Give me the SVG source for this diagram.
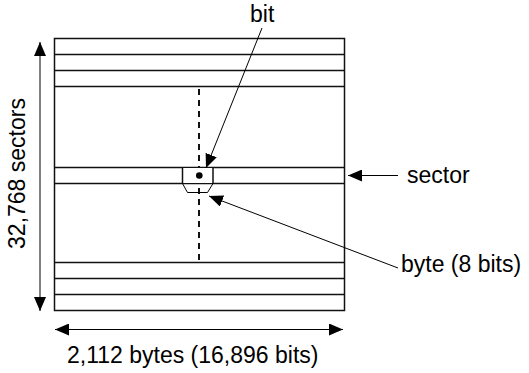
<svg xmlns="http://www.w3.org/2000/svg" width="529" height="373" viewBox="0 0 529 373">
<style>
.box{fill:none;stroke:#111;stroke-width:1.5}
.ln{stroke:#111;stroke-width:1.5}
.conn{stroke:#000;stroke-width:1;fill:none}
.lbl{font-family:"Liberation Sans",Arial,sans-serif;font-size:23px;fill:#000}
</style>
<defs>
<marker id="ah" markerWidth="14" markerHeight="12" refX="14" refY="6" orient="auto" markerUnits="userSpaceOnUse">
<path d="M0,0 L14,6 L0,12 Z" fill="#000"/>
</marker>
<marker id="ahs" markerWidth="14" markerHeight="12" refX="0" refY="6" orient="auto" markerUnits="userSpaceOnUse">
<path d="M14,0 L0,6 L14,12 Z" fill="#000"/>
</marker>
</defs>
<g id="disk">
<rect class="box" x="54.5" y="38.5" width="290" height="272"/>
<line class="ln" x1="54.5" y1="54.5" x2="344.5" y2="54.5"/>
<line class="ln" x1="54.5" y1="70.5" x2="344.5" y2="70.5"/>
<line class="ln" x1="54.5" y1="86.5" x2="344.5" y2="86.5"/>
<line class="ln" x1="54.5" y1="167.5" x2="344.5" y2="167.5"/>
<line class="ln" x1="54.5" y1="183.5" x2="344.5" y2="183.5"/>
<line class="ln" x1="54.5" y1="262.5" x2="344.5" y2="262.5"/>
<line class="ln" x1="54.5" y1="278.5" x2="344.5" y2="278.5"/>
<line class="ln" x1="54.5" y1="294.5" x2="344.5" y2="294.5"/>
<line x1="199" y1="89" x2="199" y2="260" stroke="#111" stroke-width="2" stroke-dasharray="6,5"/>
</g>
<g id="byte">
<rect x="182" y="168" width="31" height="15" fill="#fff" stroke="none"/>
<line class="ln" x1="182.5" y1="167.5" x2="182.5" y2="183.5"/>
<line class="ln" x1="213" y1="167.5" x2="213" y2="183.5"/>
<polyline class="conn" points="182.5,183.5 187.5,192.5 207.5,192.5 213,183.5"/>
<circle cx="199.3" cy="175.5" r="3.3" fill="#000"/>
</g>
<g id="connectors">
<line class="conn" x1="40" y1="42" x2="40" y2="311" marker-start="url(#ahs)" marker-end="url(#ah)"/>
<line class="conn" x1="55" y1="329.5" x2="343" y2="329.5" marker-start="url(#ahs)" marker-end="url(#ah)"/>
<line class="conn" x1="262" y1="28" x2="206" y2="168" marker-end="url(#ah)"/>
<line class="conn" x1="398" y1="175.5" x2="348" y2="175.5" marker-end="url(#ah)"/>
<line class="conn" x1="398" y1="268" x2="209" y2="196" marker-end="url(#ah)"/>
</g>
<g id="labels">
<text class="lbl" x="250" y="22">bit</text>
<text class="lbl" x="407" y="183">sector</text>
<text class="lbl" x="401" y="272">byte (8 bits)</text>
<text class="lbl" x="67" y="363">2,112 bytes (16,896 bits)</text>
<text class="lbl" x="0" y="0" text-anchor="middle" transform="translate(25,173.5) rotate(-90)">32,768 sectors</text>
</g>
</svg>
